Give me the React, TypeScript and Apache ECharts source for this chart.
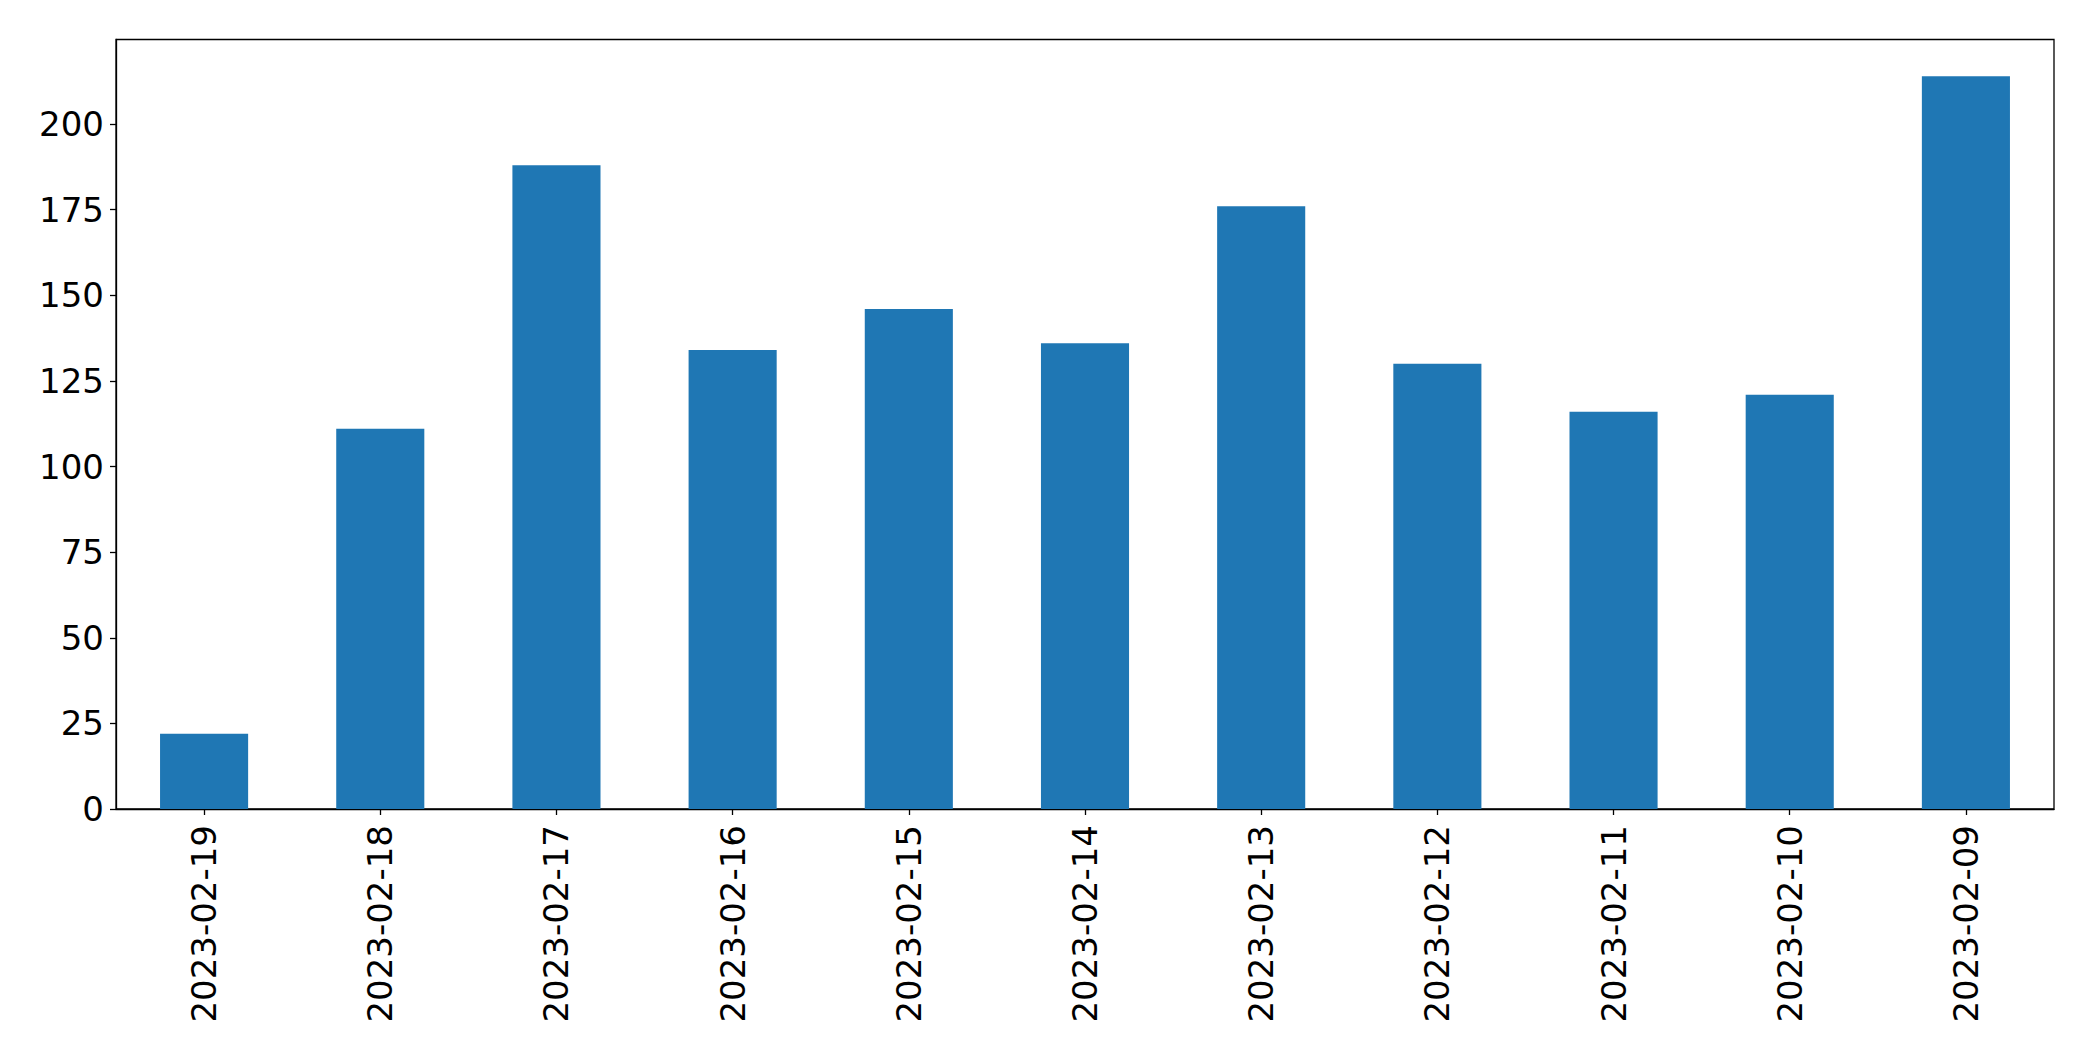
import React, { useEffect, useRef } from "react";
import * as echarts from "echarts";

const categories = [
  "2023-02-19", "2023-02-18", "2023-02-17", "2023-02-16", "2023-02-15", "2023-02-14",
  "2023-02-13", "2023-02-12", "2023-02-11", "2023-02-10", "2023-02-09",
];
const values = [22, 111, 188, 134, 146, 136, 176, 130, 116, 121, 214];
const yMax = 224.7;
const yInterval = 25;

export default function App() {
  const ref = useRef<HTMLDivElement>(null);
  useEffect(() => {
    if (!ref.current) return;
    const chart = echarts.init(ref.current, null, { renderer: "svg" });
    const font = "DejaVu Sans";
    chart.setOption({
      animation: false,
      backgroundColor: "#ffffff",
      grid: {
        left: 116,
        top: 39.5,
        right: 39,
        bottom: 252,
        containLabel: false,
        show: true,
        borderColor: "#000000",
        borderWidth: 1.3,
        backgroundColor: "transparent",
      },
      xAxis: {
        type: "category",
        data: categories,
        boundaryGap: true,
        axisLine: { show: true, lineStyle: { color: "#000000", width: 1.3 } },
        axisTick: { show: true, alignWithLabel: true, length: 6, lineStyle: { color: "#000000", width: 1.3 } },
        axisLabel: {
          rotate: 90,
          margin: 16,
          fontSize: 34,
          fontFamily: font,
          color: "#000000",
          interval: 0,
        },
        splitLine: { show: false },
      },
      yAxis: {
        type: "value",
        min: 0,
        max: yMax,
        interval: yInterval,
        axisLine: { show: true, lineStyle: { color: "#000000", width: 1.3 } },
        axisTick: { show: true, length: 6, lineStyle: { color: "#000000", width: 1.3 } },
        axisLabel: {
          margin: 12,
          fontSize: 34,
          fontFamily: font,
          color: "#000000",
          showMaxLabel: false,
        },
        splitLine: { show: false },
      },
      series: [
        {
          type: "bar",
          data: values,
          barWidth: "50%",
          itemStyle: { color: "#1f77b4" },
        },
      ],
    });
    return () => chart.dispose();
  }, []);
  return (
    <div
      ref={ref}
      style={{ position: "absolute", left: 0, top: 0, width: 2093, height: 1061 }}
    />
  );
}
